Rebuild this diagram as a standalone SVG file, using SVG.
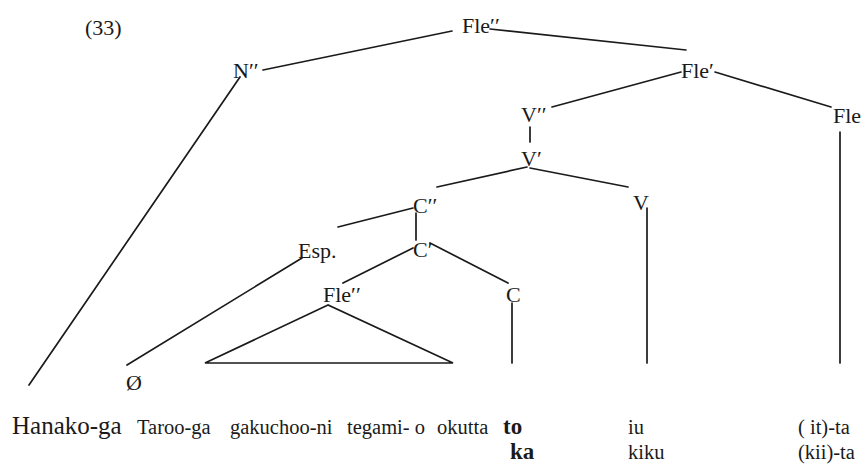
<svg xmlns="http://www.w3.org/2000/svg" width="866" height="465" viewBox="0 0 866 465">
<style>
.lbl{font-family:"Liberation Serif","Times New Roman",serif;font-size:22px;fill:#1a1a1a}
.w{font-family:"Liberation Serif","Times New Roman",serif;font-size:20.5px;fill:#1a1a1a}
.big{font-size:25px}
.b{font-weight:bold;font-size:23px}
.e{stroke:#1a1a1a;stroke-width:1.7;fill:none;stroke-linecap:round}
</style>
<rect width="866" height="465" fill="#fff"/>
<text class="lbl" x="85" y="35">(33)</text>
<g id="connectors">
<line class="e" x1="263" y1="70" x2="452" y2="31"/>
<line class="e" x1="240" y1="77" x2="29" y2="385"/>
<line class="e" x1="490" y1="29" x2="686" y2="50"/>
<line class="e" x1="681" y1="72" x2="552" y2="107"/>
<line class="e" x1="715" y1="72" x2="831" y2="107"/>
<line class="e" x1="840" y1="132" x2="840" y2="363"/>
<line class="e" x1="530" y1="127" x2="530" y2="142"/>
<line class="e" x1="527" y1="167" x2="437" y2="187"/>
<line class="e" x1="530" y1="168" x2="628" y2="187"/>
<line class="e" x1="647" y1="208" x2="647" y2="363"/>
<line class="e" x1="413" y1="208" x2="338" y2="227"/>
<line class="e" x1="416" y1="213" x2="416" y2="240"/>
<line class="e" x1="413" y1="248" x2="343" y2="283"/>
<line class="e" x1="430" y1="243" x2="508" y2="283"/>
<line class="e" x1="512" y1="303" x2="512" y2="363"/>
<line class="e" x1="302" y1="258" x2="127" y2="365"/>
<polygon class="e" points="328,305 205,363 453,363"/>
</g>
<g id="n-FleDP"><text class="lbl" x="462" y="33">Fle′′</text></g>
<g id="n-NDP"><text class="lbl" x="233" y="78">N′′</text></g>
<g id="n-FleP"><text class="lbl" x="681" y="78">Fle′</text></g>
<g id="n-VDP"><text class="lbl" x="521" y="122">V′′</text></g>
<g id="n-Fle"><text class="lbl" x="833" y="123">Fle</text></g>
<g id="n-VP"><text class="lbl" x="521" y="166">V′</text></g>
<g id="n-V"><text class="lbl" x="633" y="210">V</text></g>
<g id="n-CDP"><text class="lbl" x="413" y="213">C′′</text></g>
<g id="n-CP"><text class="lbl" x="413" y="257">C′</text></g>
<g id="n-Esp"><text class="lbl" x="298" y="258">Esp.</text></g>
<g id="n-FleDP2"><text class="lbl" x="323" y="302">Fle′′</text></g>
<g id="n-C"><text class="lbl" x="506" y="302">C</text></g>
<g id="n-null"><text class="lbl" x="126" y="390">Ø</text></g>
<g id="words">
<text class="w big" x="12" y="434">Hanako-ga</text>
<text class="w" x="137" y="434">Taroo-ga</text>
<text class="w" x="230" y="434">gakuchoo-ni</text>
<text class="w" x="347" y="434">tegami- o</text>
<text class="w" x="437" y="434">okutta</text>
<text class="w b" x="503" y="434">to</text>
<text class="w" x="628" y="434">iu</text>
<text class="w" x="798" y="434">( it)-ta</text>
<text class="w b" x="510" y="459">ka</text>
<text class="w" x="628" y="459">kiku</text>
<text class="w" x="798" y="459">(kii)-ta</text>
</g>
</svg>
